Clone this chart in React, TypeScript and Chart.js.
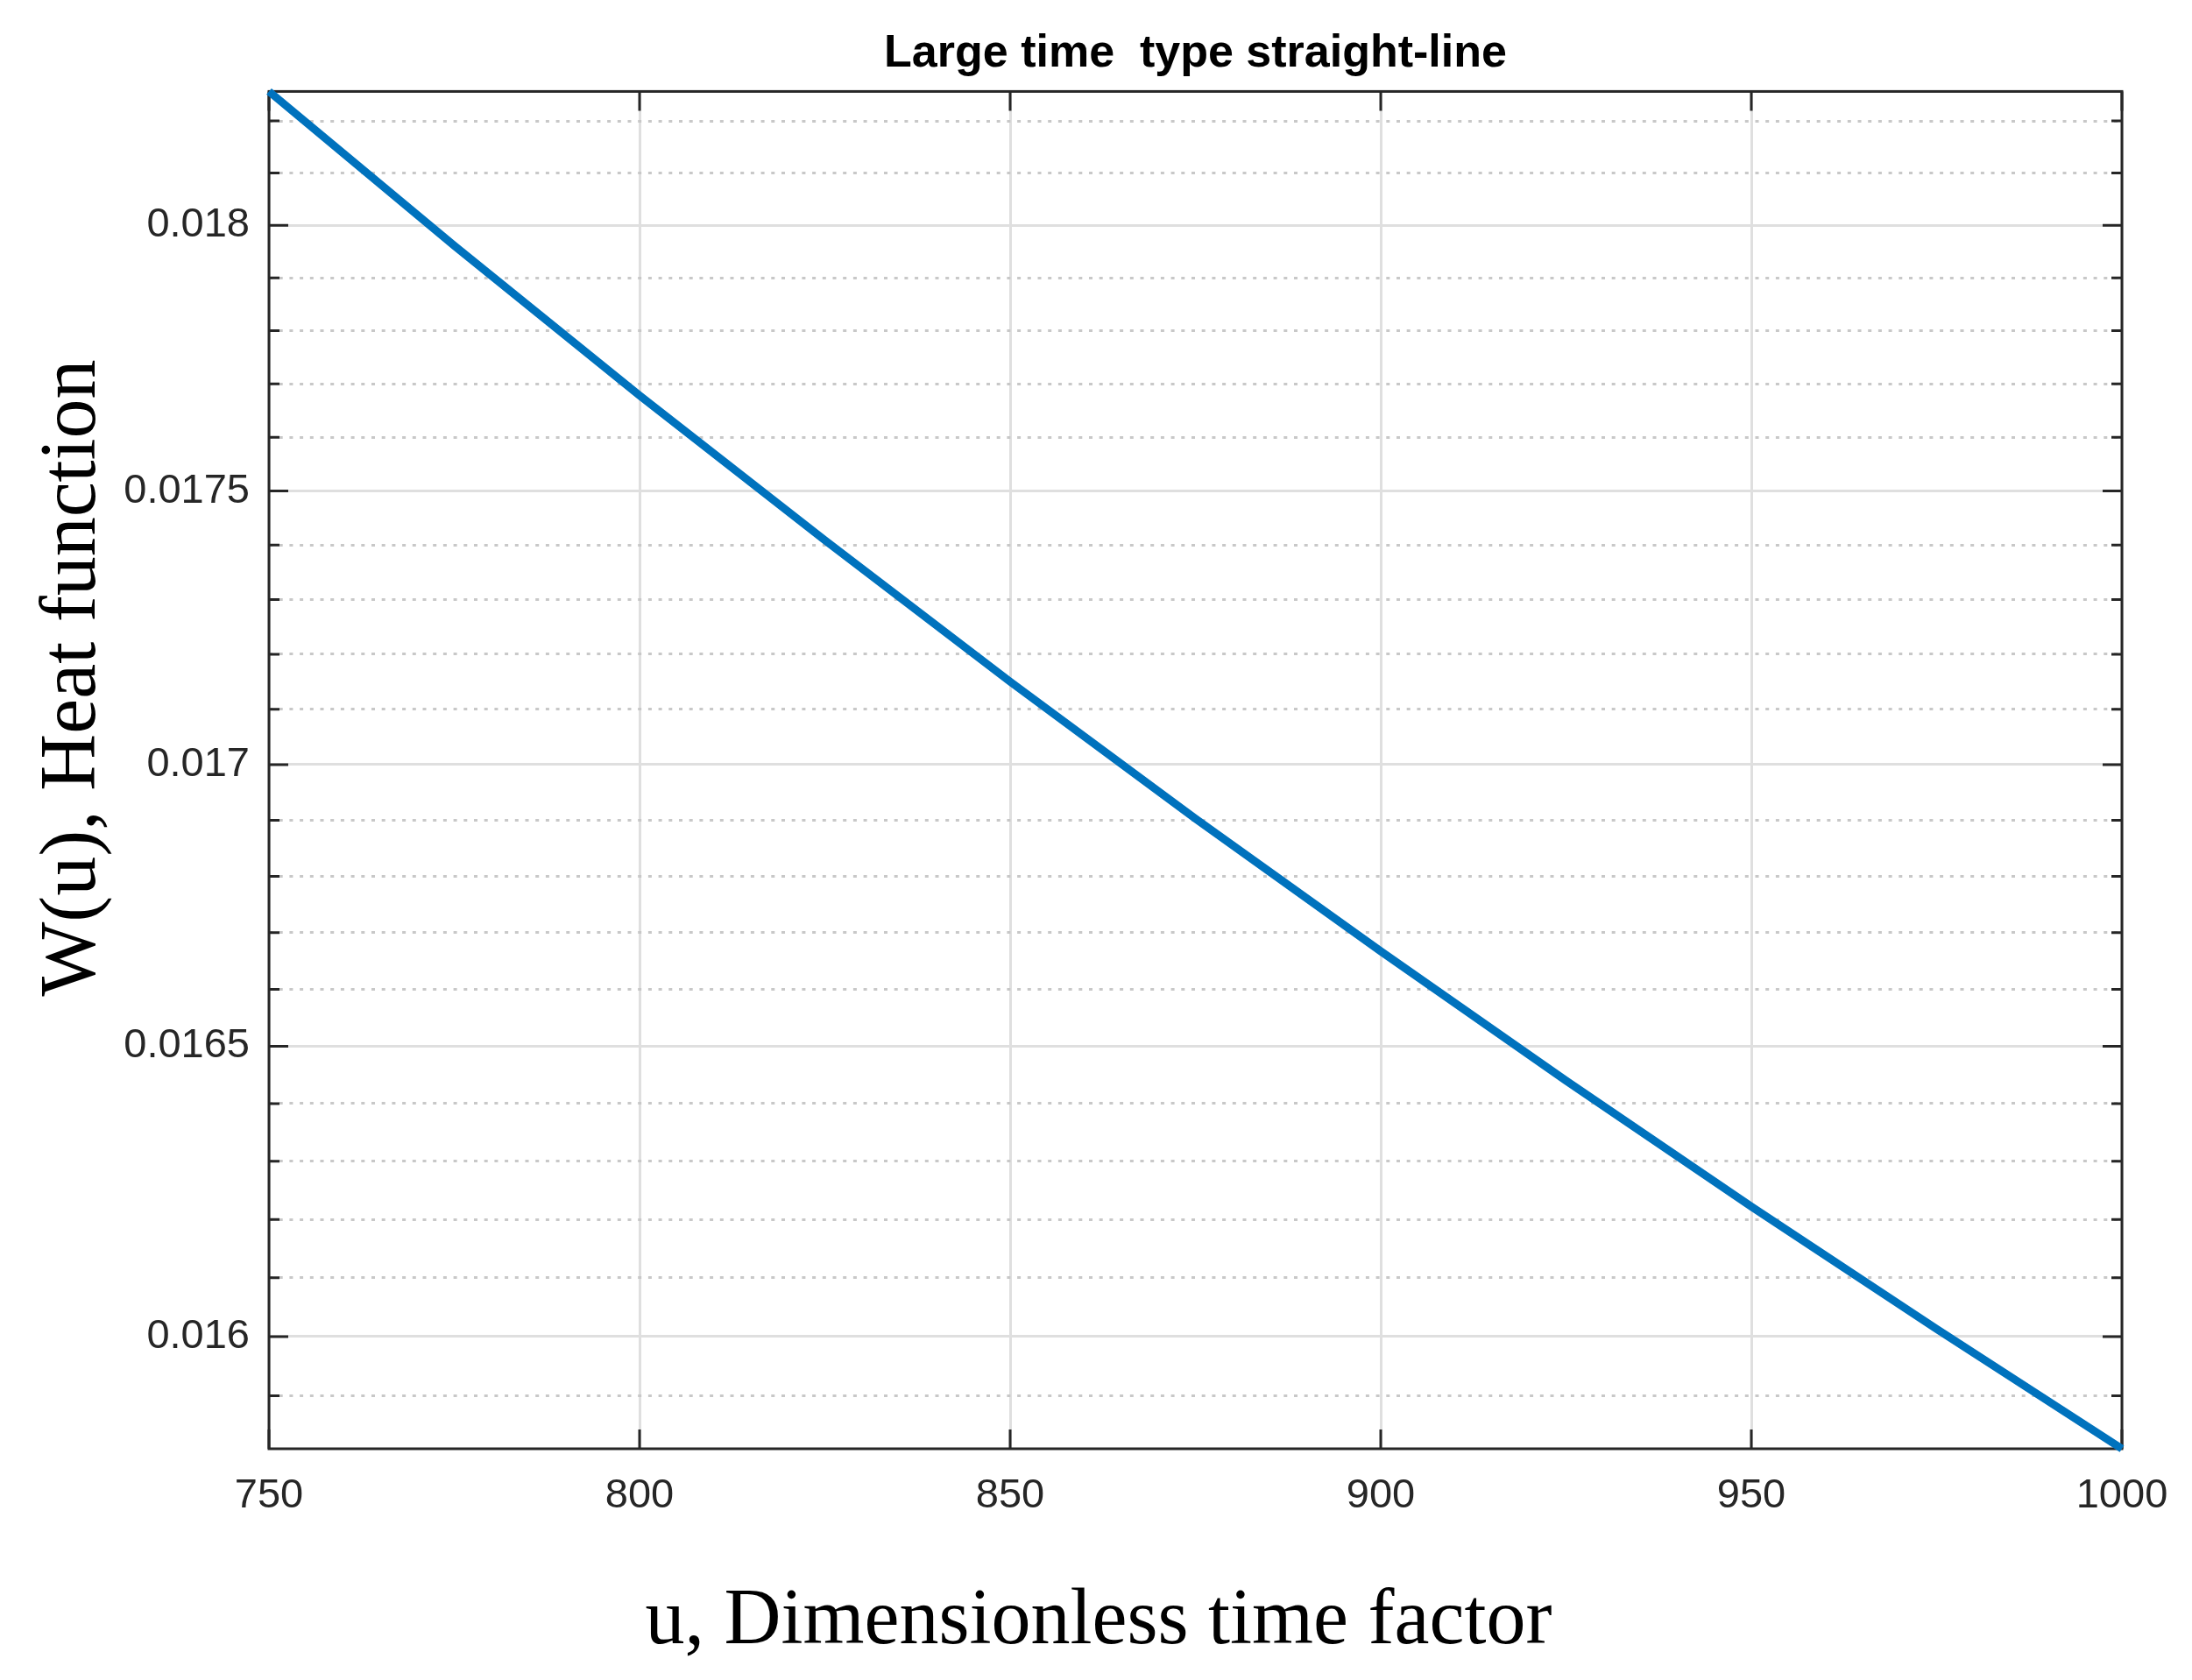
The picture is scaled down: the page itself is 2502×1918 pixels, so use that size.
import React, { useEffect, useRef } from 'react';
import { Chart, registerables } from 'chart.js';

Chart.register(...registerables);

// values
const uValues = [750, 775, 800, 825, 850, 875, 900, 925, 950, 975, 1000];
const heatValues = [
  0.018257, 0.017961, 0.017678, 0.017409, 0.01715, 0.016903, 0.016667, 0.01644, 0.016222, 0.016013,
  0.015811,
];
const xTicks = [750, 800, 850, 900, 950, 1000];
const yMajorTicks = [0.016, 0.0165, 0.017, 0.0175, 0.018];
const yMajorLabels = ['0.016', '0.0165', '0.017', '0.0175', '0.018'];
const yMinorTicks = [
  0.0159, 0.0161, 0.0162, 0.0163, 0.0164, 0.0166, 0.0167, 0.0168, 0.0169, 0.0171, 0.0172, 0.0173,
  0.0174, 0.0176, 0.0177, 0.0178, 0.0179, 0.0181, 0.0182,
];

const chartTitle = 'Large time  type straight-line';
const xTitle = 'u, Dimensionless time factor';
const yTitle = 'W(u), Heat function';

const axisColor = '#262626';
const sansFont = "'Liberation Sans', Arial, Helvetica, sans-serif";
const serifFont = "'Liberation Serif', 'Times New Roman', serif";

const majorIndex = (v: number) => yMajorTicks.findIndex((m) => Math.abs(m - v) < 1e-9);
const isMajor = (v?: number) => v !== undefined && majorIndex(v) >= 0;

// MATLAB-ish box with inward ticks, plus the two axis labels
const axesFrame = {
  id: 'axesFrame',
  beforeDatasetsDraw(chart: any) {
    const { ctx, chartArea } = chart;
    const { left, right, top, bottom } = chartArea;
    const xs = chart.scales.x;
    const ys = chart.scales.y;
    ctx.save();
    ctx.strokeStyle = axisColor;
    ctx.lineWidth = 3;
    ctx.beginPath();
    xTicks.forEach((v) => {
      const px = xs.getPixelForValue(v);
      ctx.moveTo(px, bottom);
      ctx.lineTo(px, bottom - 22);
      ctx.moveTo(px, top);
      ctx.lineTo(px, top + 22);
    });
    ys.ticks.forEach((t: any) => {
      const py = ys.getPixelForValue(t.value);
      const len = isMajor(t.value) ? 22 : 12;
      ctx.moveTo(left, py);
      ctx.lineTo(left + len, py);
      ctx.moveTo(right, py);
      ctx.lineTo(right - len, py);
    });
    ctx.stroke();
    ctx.strokeRect(left, top, right - left, bottom - top);
    ctx.restore();
  },
  afterDraw(chart: any) {
    const { ctx, width, height } = chart;
    ctx.save();
    ctx.fillStyle = '#000';
    ctx.font = `90px ${serifFont}`;
    ctx.textAlign = 'center';
    ctx.textBaseline = 'alphabetic';
    ctx.fillText(xTitle, width / 2 + 3, height - 42);
    ctx.translate(108, 774);
    ctx.rotate(-Math.PI / 2);
    ctx.fillText(yTitle, 0, 0);
    ctx.restore();
  },
};

export default function App() {
  const canvasRef = useRef<HTMLCanvasElement>(null);

  useEffect(() => {
    document.body.style.margin = '0';
    if (!canvasRef.current) return;
    const chart = new Chart(canvasRef.current, {
      type: 'line',
      data: {
        datasets: [
          {
            label: 'W(u)',
            data: uValues.map((u, i) => ({ x: u, y: heatValues[i] })),
            borderColor: '#0072BD',
            backgroundColor: '#0072BD',
            borderWidth: 9,
            pointRadius: 0,
            tension: 0,
            clip: false,
          },
        ],
      },
      options: {
        animation: false,
        responsive: true,
        maintainAspectRatio: false,
        layout: { padding: { left: 0, right: 80, top: 0, bottom: 0 } },
        plugins: {
          legend: { display: false },
          tooltip: { enabled: false },
          title: {
            display: true,
            text: chartTitle,
            fullSize: false,
            color: '#000',
            font: { family: sansFont, size: 52, weight: 'bold' },
            padding: { top: 30, bottom: 12 },
          },
        },
        scales: {
          x: {
            type: 'linear',
            min: 750,
            max: 1000,
            bounds: 'data',
            afterBuildTicks: (scale: any) => {
              scale.ticks = xTicks.map((v) => ({ value: v }));
            },
            afterFit: (scale: any) => {
              scale.height = 264;
            },
            ticks: {
              autoSkip: false,
              maxRotation: 0,
              padding: 26,
              color: axisColor,
              font: { family: sansFont, size: 47 },
              callback: (value: any) => String(value),
            },
            grid: { color: '#dfdfdf', lineWidth: 3, drawTicks: false },
            border: { display: false },
          },
          y: {
            type: 'logarithmic',
            min: 0.015811,
            max: 0.018257,
            bounds: 'data',
            afterBuildTicks: (scale: any) => {
              scale.ticks = [...yMinorTicks, ...yMajorTicks]
                .sort((a, b) => a - b)
                .map((v) => ({ value: v }));
            },
            afterFit: (scale: any) => {
              scale.width = 307;
            },
            ticks: {
              autoSkip: false,
              padding: 22,
              color: axisColor,
              font: { family: sansFont, size: 47 },
              callback: (value: any) => {
                const i = majorIndex(Number(value));
                return i >= 0 ? yMajorLabels[i] : '';
              },
            },
            grid: {
              lineWidth: 3,
              drawTicks: false,
              color: (ctx: any) => (isMajor(ctx.tick?.value) ? '#dfdfdf' : '#c8c8c8'),
            },
            border: {
              display: false,
              dash: (ctx: any) => (isMajor(ctx.tick?.value) ? [] : [4, 7.7]),
            },
          },
        },
      },
      plugins: [axesFrame],
    });
    return () => {
      chart.destroy();
    };
  }, []);

  return (
    <div style={{ position: 'relative', width: '2502px', height: '1918px' }}>
      <canvas ref={canvasRef} />
    </div>
  );
}
